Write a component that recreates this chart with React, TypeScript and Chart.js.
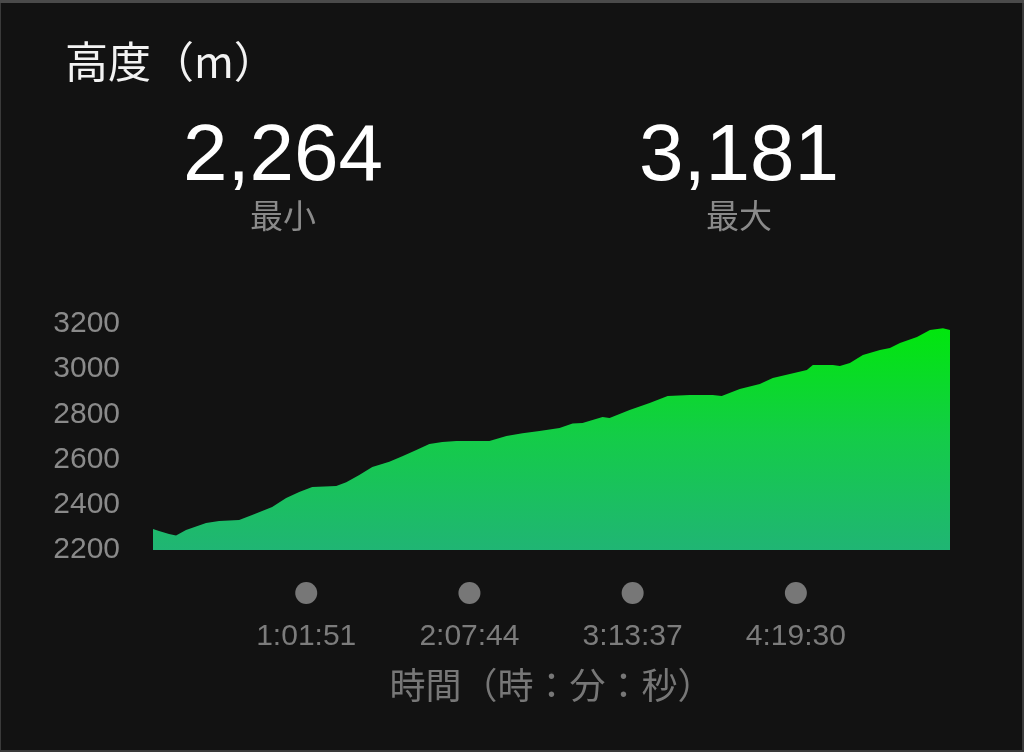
import React, { useEffect, useRef } from "react";
import { Chart, registerables, Plugin } from "chart.js";

Chart.register(...registerables);

// elapsed time (seconds) and altitude (m) read from the profile
const elapsedSeconds = [
  0, 146, 388, 558, 800, 1285, 1601, 2086, 2401, 2886, 3225, 3541, 3856, 4438,
  4680, 4996, 5311, 5723, 6038, 6378, 6693, 7008, 7348, 7736, 8148, 8560, 8948,
  9361, 9846, 10161, 10403, 10888, 11058, 11543, 12028, 12465, 12998, 13556,
  13774, 14211, 14696, 15011, 15423, 15835, 15981, 16466, 16636, 16878, 17193,
  17606, 17848, 18091, 18503, 18818, 19133, 19303,
];
const altitude = [
  2293, 2284, 2271, 2264, 2288, 2319, 2328, 2333, 2355, 2390, 2430, 2457, 2479,
  2483, 2500, 2532, 2567, 2590, 2615, 2642, 2669, 2678, 2682, 2682, 2682, 2704,
  2717, 2727, 2740, 2760, 2762, 2788, 2784, 2819, 2850, 2881, 2886, 2886, 2881,
  2912, 2934, 2961, 2979, 2996, 3019, 3019, 3014, 3027, 3063, 3085, 3094, 3116,
  3142, 3173, 3181, 3173,
];

const timeTicks = [3711, 7664, 11617, 15570];
const timeTickLabels = ["1:01:51", "2:07:44", "3:13:37", "4:19:30"];

const latinFont = "'Liberation Sans', Arial, sans-serif";
const cjkFont = "'Noto Sans CJK JP', sans-serif";

// grey dots above each time label
const tickDots: Plugin<"line"> = {
  id: "tickDots",
  afterDraw(chart) {
    const { ctx, chartArea, scales } = chart;
    ctx.save();
    ctx.fillStyle = "#777777";
    timeTicks.forEach((t) => {
      const x = scales.x.getPixelForValue(t);
      ctx.beginPath();
      ctx.arc(x, chartArea.bottom + 43, 11, 0, Math.PI * 2);
      ctx.fill();
    });
    ctx.restore();
  },
};

function AltitudeChart() {
  const chartRef = useRef<HTMLCanvasElement>(null);

  useEffect(() => {
    if (!chartRef.current) return;
    const chart = new Chart(chartRef.current, {
      type: "line",
      data: {
        datasets: [
          {
            data: elapsedSeconds.map((t, i) => ({ x: t, y: altitude[i] })),
            fill: "start",
            borderWidth: 0,
            pointRadius: 0,
            tension: 0,
            backgroundColor: (ctx) => {
              const { ctx: c, chartArea } = ctx.chart;
              if (!chartArea) return "#1fc060";
              const g = c.createLinearGradient(0, chartArea.top, 0, chartArea.bottom);
              g.addColorStop(0, "#00e80a");
              g.addColorStop(0.5, "#14cc48");
              g.addColorStop(1, "#20b574");
              return g;
            },
          },
        ],
      },
      options: {
        responsive: false,
        animation: false,
        layout: { padding: { top: 324, right: 74, left: 0, bottom: 0 } },
        plugins: {
          legend: { display: false },
          tooltip: { enabled: false },
        },
        scales: {
          x: {
            type: "linear",
            min: 0,
            max: 19303,
            grid: { display: false, drawTicks: false },
            border: { display: false },
            afterBuildTicks: (scale) => {
              scale.ticks = timeTicks.map((v) => ({ value: v }));
            },
            afterFit: (scale) => {
              scale.height = 202;
            },
            ticks: {
              autoSkip: false,
              maxRotation: 0,
              padding: 69,
              color: "#7c7c7c",
              font: { size: 30, family: latinFont },
              callback: (value) => {
                const i = timeTicks.indexOf(Number(value));
                return i >= 0 ? timeTickLabels[i] : "";
              },
            },
            title: {
              display: true,
              text: "時間（時：分：秒）",
              color: "#777777",
              font: { size: 36, family: cjkFont },
              padding: { top: 0, bottom: 45 },
            },
          },
          y: {
            min: 2200,
            max: 3200,
            grid: { display: false, drawTicks: false },
            border: { display: false },
            afterFit: (scale) => {
              scale.width = 153;
            },
            ticks: {
              stepSize: 200,
              padding: 33,
              color: "#8a8a8a",
              font: { size: 30, family: latinFont },
              callback: (value) => String(value),
            },
          },
        },
      },
      plugins: [tickDots],
    });

    return () => {
      chart.destroy();
    };
  }, []);

  return <canvas ref={chartRef} width={1024} height={752} />;
}

export default function App() {
  useEffect(() => {
    document.body.style.margin = "0";
  }, []);

  return (
    <div
      style={{
        position: "relative",
        width: 1024,
        height: 752,
        background: "#121212",
        boxShadow:
          "inset 0 3px 0 #4a4a4a, inset 1px 0 0 #3a3a3a, inset -2px 0 0 #3a3a3a, inset 0 -2px 0 #3a3a3a",
        overflow: "hidden",
      }}
    >
      <div style={{ position: "absolute", left: 0, top: 0 }}>
        <AltitudeChart />
      </div>

      {/* Header */}
      <div
        style={{
          position: "absolute",
          left: 65,
          top: 38,
          fontFamily: cjkFont,
          fontSize: 43,
          lineHeight: "43px",
          color: "#f2f2f2",
          whiteSpace: "nowrap",
        }}
      >
        高度（m）
      </div>

      {[
        { value: "2,264", label: "最小", center: 283 },
        { value: "3,181", label: "最大", center: 739 },
      ].map((s) => (
        <React.Fragment key={s.label}>
          <div
            style={{
              position: "absolute",
              left: s.center - 150,
              width: 300,
              top: 113,
              textAlign: "center",
              fontFamily: latinFont,
              fontSize: 80,
              lineHeight: "80px",
              color: "#ffffff",
            }}
          >
            {s.value}
          </div>
          <div
            style={{
              position: "absolute",
              left: s.center - 100,
              width: 200,
              top: 198,
              textAlign: "center",
              fontFamily: cjkFont,
              fontSize: 33,
              lineHeight: "33px",
              color: "#8a8a8a",
            }}
          >
            {s.label}
          </div>
        </React.Fragment>
      ))}
    </div>
  );
}
